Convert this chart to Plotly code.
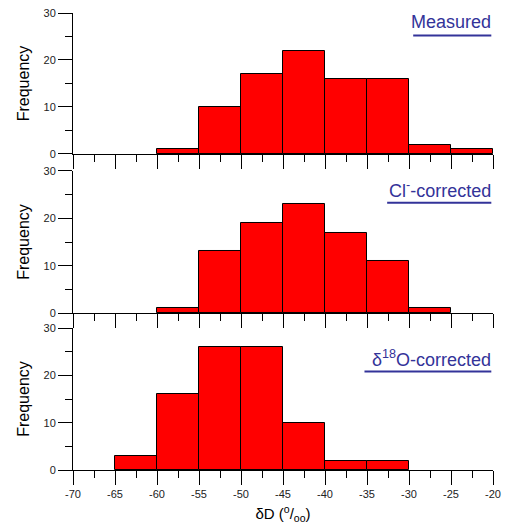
import plotly.graph_objects as go

# bin left edges (δD, per mil) and counts for each panel
bin_left = [-70, -65, -60, -55, -50, -45, -40, -35, -30, -25]
bin_width = 5
measured = [0, 0, 1, 10, 17, 22, 16, 16, 2, 1]
cl_corrected = [0, 0, 1, 13, 19, 23, 17, 11, 1, 0]
o18_corrected = [0, 3, 16, 26, 26, 10, 2, 2, 0, 0]
panel_labels = ["Measured", "Cl<sup>-</sup>-corrected", "δ<sup>18</sup>O-corrected"]
x_ticks = [-70, -65, -60, -55, -50, -45, -40, -35, -30, -25, -20]
x_ticktext = ["-70", "-65", "-60", "-55", "-50", "-45", "-40", "-35", "-30", "-25", "-20"]
y_ticks = [0, 10, 20, 30]

series = [measured, cl_corrected, o18_corrected]
domains = [[0.6915, 1.0], [0.3435, 0.6543], [0.0, 0.3107]]
label_y = [28.0, 26.0, 23.6]
underline_y = [25.2, 23.3, 20.8]
underline_len = [9.3, 12.4, 15.1]

FONT = "Liberation Sans, Arial, sans-serif"
LABEL_COLOR = "#333399"
fig = go.Figure()
for i, counts in enumerate(series):
    n = i + 1
    xr = f"x{n}" if n > 1 else "x"
    yr = f"y{n}" if n > 1 else "y"
    xs = [b + bin_width / 2 for b, c in zip(bin_left, counts) if c > 0]
    ys = [c for c in counts if c > 0]
    fig.add_trace(go.Bar(
        x=xs, y=ys, width=bin_width,
        marker=dict(color="#ff0000", line=dict(color="black", width=1)),
        xaxis=xr, yaxis=yr, showlegend=False,
    ))
    xa = dict(
        range=[-70, -20], tickvals=x_ticks, ticktext=x_ticktext, ticks="outside", ticklen=14,
        tickwidth=1, tickcolor="black", showline=True, linecolor="black",
        linewidth=1, showgrid=False, zeroline=False, automargin=False,
        minor=dict(dtick=2.5, tick0=-70, ticks="outside", ticklen=7, tickcolor="black", showgrid=False),
        anchor=yr, showticklabels=(n == 3),
        tickfont=dict(family=FONT, size=11, color="#222"),
    )
    ya = dict(
        range=[0, 30], domain=domains[i], tickvals=y_ticks, ticks="outside",
        ticklen=14, tickwidth=1, tickcolor="black", showline=True,
        linecolor="black", linewidth=1, showgrid=False, zeroline=False, automargin=False,
        minor=dict(dtick=5, tick0=0, ticks="outside", ticklen=7, tickcolor="black", showgrid=False),
        anchor=xr,
        tickfont=dict(family=FONT, size=11, color="#222"),
        title=dict(text="Frequency", font=dict(family=FONT, size=16, color="black"), standoff=9),
    )
    if n == 3:
        xa["title"] = dict(text="δD (<sup>o</sup>/<sub>oo</sub>)", font=dict(family=FONT, size=15, color="black"), standoff=9)
    fig.layout[f"xaxis{n}" if n > 1 else "xaxis"] = xa
    fig.layout[f"yaxis{n}" if n > 1 else "yaxis"] = ya
    fig.add_annotation(
        text=panel_labels[i], x=-20, y=label_y[i], xref=xr, yref=yr,
        xanchor="right", yanchor="middle", showarrow=False,
        font=dict(family=FONT, size=18, color=LABEL_COLOR),
    )
    fig.add_shape(
        type="line", xref=xr, yref=yr,
        x0=-20.2 - underline_len[i], x1=-20.2, y0=underline_y[i], y1=underline_y[i],
        line=dict(color=LABEL_COLOR, width=2),
    )

fig.update_layout(
    width=528, height=526,
    margin=dict(l=73, r=35, t=13, b=56),
    plot_bgcolor="white", paper_bgcolor="white",
    bargap=0,
)
fig.write_html("out.html")
